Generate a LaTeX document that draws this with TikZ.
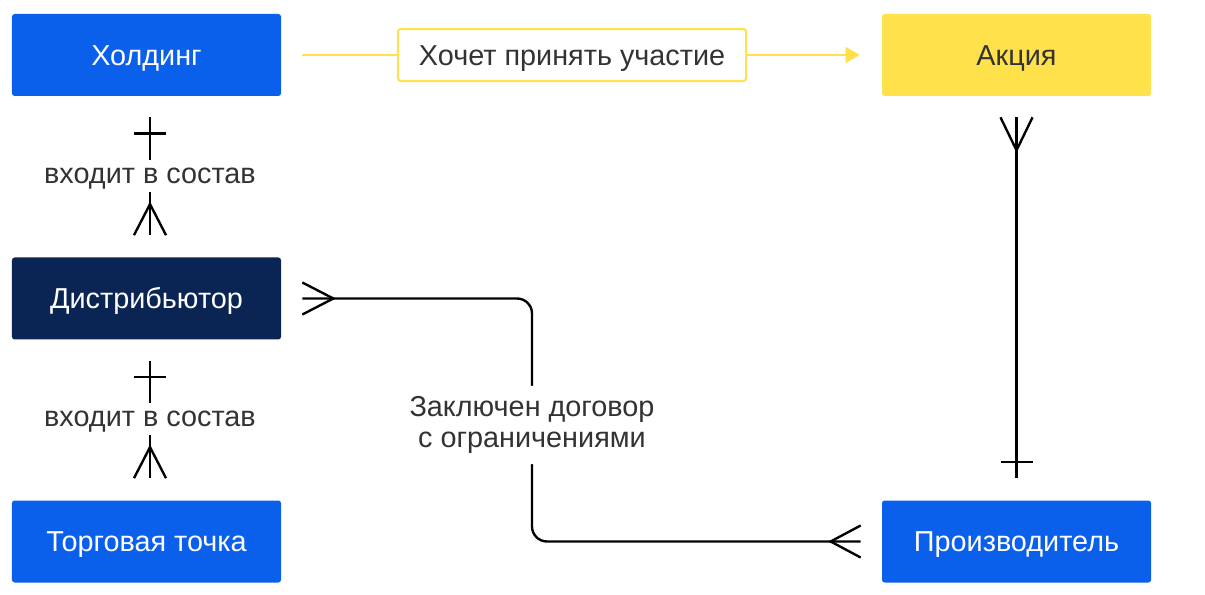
\documentclass[tikz,border=0pt]{standalone}
\usepackage{fontspec}
\setmainfont{Liberation Sans}
\usetikzlibrary{arrows.meta}
\definecolor{blockblue}{RGB}{10,95,235}
\definecolor{blocknavy}{RGB}{10,37,84}
\definecolor{blockyellow}{RGB}{255,225,75}
\definecolor{textgray}{RGB}{51,51,51}

\begin{document}
\begin{tikzpicture}[
    box/.style={rectangle, rounded corners=1.5pt, minimum width=5.38cm, minimum height=1.64cm, text height=11.8pt, text depth=0pt, font=\fontsize{16.4}{17.4}\selectfont},
    rel/.style={line width=1.35pt, black},
    lbl/.style={fill=white, text=textgray, font=\fontsize{16.4}{17.4}\selectfont, align=center}
]
    \useasboundingbox (0,0) rectangle (24.1,-11.9);

    % Blocks
    \node[box, fill=blockblue, text=white] (hold) at (2.93,-1.1) {Холдинг};
    \node[box, fill=blockyellow, text=textgray] (akc) at (20.33,-1.1) {Акция};
    \node[box, fill=blocknavy, text=white] (dist) at (2.93,-5.97) {Дистрибьютор};
    \node[box, fill=blockblue, text=white] (tt) at (2.93,-10.83) {Торговая точка};
    \node[box, fill=blockblue, text=white] (proizv) at (20.33,-10.83) {Производитель};

    % Holding -> promo
    \draw[blockyellow, line width=1.2pt, -{Triangle[length=0.28cm,width=0.32cm]}] ([xshift=0.42cm]hold.east) -- node[lbl, pos=0.484, draw=blockyellow, rounded corners=1.5pt, minimum width=6.96cm, minimum height=1.04cm, text height=11.8pt, text depth=0pt] {Хочет принять участие} ([xshift=-0.44cm]akc.west);

    % "входит в состав" links
    \foreach \a/\b in {hold/dist, dist/tt} {
        \coordinate (top) at ([xshift=0.07cm,yshift=-0.42cm]\a.south);
        \coordinate (bot) at ([xshift=0.07cm,yshift=0.44cm]\b.north);
        \draw[rel] (top) -- node[lbl, inner xsep=2pt, minimum height=0.64cm, text height=8.5pt, text depth=0pt] {входит в состав} (bot);
        \draw[rel] ([xshift=-0.32cm,yshift=-0.32cm]top) -- ([xshift=0.32cm,yshift=-0.32cm]top);
        \draw[rel] ([xshift=-0.32cm]bot) -- ([yshift=0.62cm]bot) -- ([xshift=0.32cm]bot);
    }

    % Promo - producer
    \coordinate (a1) at ([yshift=-0.42cm]akc.south);
    \coordinate (p1) at ([yshift=0.44cm]proizv.north);
    \draw[rel] (a1) -- (p1);
    \draw[rel] ([xshift=-0.32cm]a1) -- ([yshift=-0.66cm]a1) -- ([xshift=0.32cm]a1);
    \draw[rel] ([xshift=-0.32cm,yshift=0.32cm]p1) -- ([xshift=0.32cm,yshift=0.32cm]p1);

    % Distributor - producer
    \coordinate (d2) at ([xshift=0.42cm]dist.east);
    \coordinate (p2) at ([xshift=-0.42cm]proizv.west);
    \draw[rel, rounded corners=0.3cm] (d2) -| (10.64,-8.5) node[lbl, minimum height=1.56cm] {Заключен договор\\с ограничениями} |- (p2);
    \draw[rel] ([yshift=0.32cm]d2) -- ([xshift=0.62cm]d2) -- ([yshift=-0.32cm]d2);
    \draw[rel] ([yshift=0.32cm]p2) -- ([xshift=-0.6cm]p2) -- ([yshift=-0.32cm]p2);
\end{tikzpicture}
\end{document}
